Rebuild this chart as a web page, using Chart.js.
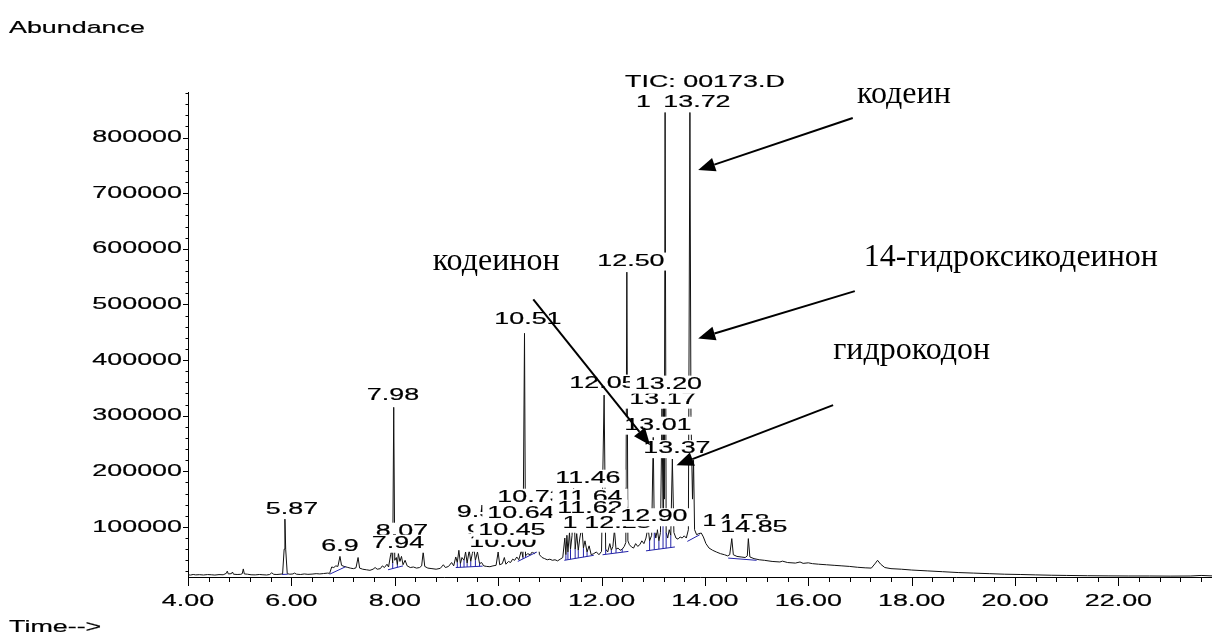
<!DOCTYPE html>
<html>
<head>
<meta charset="utf-8">
<script src="https://cdn.jsdelivr.net/npm/chart.js@4.4.0/dist/chart.umd.min.js"></script>
<style>
  html, body { margin: 0; padding: 0; background: #fff; }
  #wrap { width: 1212px; height: 632px; position: relative; }
</style>
</head>
<body>
<div id="wrap"><canvas id="tic"></canvas></div>
<script>
// TIC chromatogram, run 00173.D (time in min, abundance in counts)
const traceTime = [
  4.00, 4.05, 4.10, 4.15, 4.22, 4.30, 4.38, 4.45, 4.52, 4.60, 4.68, 4.74, 4.76, 4.78, 4.84, 4.86, 4.88, 4.95,
  5.02, 5.05, 5.07, 5.09, 5.15, 5.22, 5.30, 5.38, 5.45, 5.52, 5.58, 5.62, 5.66, 5.72, 5.78, 5.83, 5.86, 5.875, 5.89, 5.92, 5.97,
  6.03, 6.06, 6.10, 6.18, 6.25, 6.32, 6.40, 6.48, 6.55, 6.62, 6.70, 6.74, 6.78, 6.82, 6.86, 6.90, 6.94, 6.97,
  7.02, 7.08, 7.14, 7.20, 7.25, 7.29, 7.32, 7.38, 7.45, 7.52, 7.58, 7.62, 7.66, 7.72, 7.76, 7.80, 7.85, 7.88, 7.92, 7.94, 7.96, 7.98,
  8.00, 8.03, 8.05, 8.07, 8.10, 8.13, 8.16, 8.20, 8.24, 8.30, 8.36, 8.42, 8.48, 8.52, 8.55, 8.58, 8.64, 8.72, 8.80, 8.88, 8.94, 8.98,
  9.04, 9.10, 9.14, 9.18, 9.21, 9.24, 9.27, 9.30, 9.34, 9.37, 9.40, 9.44, 9.47, 9.50, 9.53, 9.56, 9.60, 9.64, 9.68, 9.72, 9.78, 9.84, 9.90, 9.96,
  10.00, 10.03, 10.08, 10.12, 10.15, 10.20, 10.24, 10.28, 10.32, 10.36, 10.40, 10.45, 10.48, 10.51, 10.53, 10.57, 10.62, 10.66, 10.70, 10.74, 10.77, 10.80, 10.85, 10.90, 10.95,
  11.00, 11.05, 11.10, 11.15, 11.20, 11.25, 11.29, 11.31, 11.33, 11.35, 11.38, 11.40, 11.43, 11.46, 11.49, 11.52, 11.55, 11.58, 11.62, 11.65, 11.68, 11.72, 11.76, 11.80, 11.85, 11.90, 11.95,
  12.00, 12.05, 12.08, 12.12, 12.16, 12.19, 12.22, 12.25, 12.28, 12.32, 12.36, 12.40, 12.44, 12.47, 12.49, 12.51, 12.54, 12.58, 12.62, 12.66, 12.70, 12.74, 12.78, 12.82, 12.86, 12.90, 12.93, 12.97,
  13.00, 13.02, 13.05, 13.08, 13.11, 13.14, 13.17, 13.19, 13.20, 13.215, 13.23, 13.25, 13.28, 13.31, 13.34, 13.37, 13.40, 13.44, 13.48, 13.52, 13.56, 13.60, 13.64, 13.68, 13.71, 13.73, 13.76, 13.78, 13.80, 13.84, 13.88, 13.93, 13.97,
  14.02, 14.08, 14.15, 14.22, 14.30, 14.38, 14.44, 14.48, 14.52, 14.55, 14.62, 14.70, 14.78, 14.82, 14.84, 14.87, 14.95,
  15.05, 15.15, 15.30, 15.45, 15.50, 15.60, 15.75, 15.84, 15.90, 16.00, 16.08, 16.20, 16.35, 16.50, 16.65, 16.80, 16.95,
  17.10, 17.22, 17.30, 17.34, 17.40, 17.48, 17.60, 17.80, 18.00, 18.30, 18.60, 18.90, 19.20, 19.50, 19.80,
  20.10, 20.40, 20.70, 21.00, 21.40, 21.80, 22.20, 22.60, 23.00, 23.40, 23.60, 23.81
];
const traceAbund = [
  14000, 13500, 14500, 13800, 14200, 13600, 14400, 14000, 13500, 14300, 14000, 16500, 20500, 15500, 16000, 19000, 15000, 14500,
  14800, 16000, 24500, 15500, 15000, 14000, 13800, 14500, 14000, 13600, 14500, 17500, 14800, 14500, 15000, 15500, 60000, 114000, 60000, 16000, 15000,
  15500, 17000, 15000, 14500, 15500, 14800, 15200, 16000, 15500, 16200, 17000, 16500, 28000, 27000, 30000, 29000, 47000, 31000,
  29000, 27500, 26000, 25000, 26500, 45000, 26000, 24000, 23000, 22000, 24000, 27000, 24000, 25000, 30000, 27000, 33000, 28000, 50000, 58000, 35000, 315000,
  40000, 45000, 32000, 52000, 38000, 47000, 32000, 40000, 30000, 27000, 28000, 26000, 27000, 30000, 55000, 29000, 26000, 25000, 24000, 25500, 32000, 27000,
  29000, 36000, 30000, 46000, 36000, 58000, 34000, 45000, 40000, 55000, 35000, 58000, 38000, 52000, 62000, 40000, 55000, 34000, 36000, 30000, 29000, 28500, 30000, 31000,
  55000, 32000, 34000, 45000, 33000, 38000, 36000, 42000, 40000, 46000, 41000, 58000, 45000, 448000, 48000, 52000, 50000, 55000, 52000, 56000, 76000, 50000, 45000, 43000, 41000,
  42000, 40000, 41000, 39000, 42000, 45000, 80000, 50000, 85000, 55000, 90000, 60000, 85000, 169000, 60000, 88000, 58000, 80000, 100000, 62000, 75000, 55000, 66000, 50000, 52000, 55000, 50000,
  56000, 337000, 60000, 55000, 70000, 58000, 65000, 95000, 60000, 62000, 58000, 60000, 65000, 72000, 558000, 75000, 68000, 64000, 62000, 70000, 65000, 68000, 75000, 70000, 80000, 100000, 75000, 85000,
  261000, 100000, 80000, 95000, 75000, 90000, 313000, 120000, 340000, 150000, 845000, 90000, 80000, 95000, 85000, 222000, 90000, 80000, 78000, 82000, 80000, 84000, 80000, 95000, 845000, 300000, 150000, 220000, 95000, 86000, 88000, 89000, 82000,
  70000, 62000, 58000, 55000, 52000, 50000, 48000, 50000, 79000, 50000, 47000, 46000, 45000, 48000, 79000, 46000, 43000,
  41000, 40000, 38000, 37000, 38500, 36000, 35000, 37000, 34500, 35500, 34000, 33000, 32000, 31000, 30000, 29000, 27500,
  26500, 26000, 35000, 40000, 33000, 27000, 25000, 24000, 22500, 21000, 19500, 18000, 17000, 16000, 15000,
  14500, 13800, 13200, 12800, 12300, 12000, 11800, 11800, 11600, 11800, 12800, 12000
];

// integration baselines and drop lines (blue); null breaks the line
const intTime = [
  5.82, 5.93, null, 6.74, 7.05, null, 7.87, 8.16, null, 9.18, 9.70, null, 10.38, 10.75, null,
  11.28, 11.85, null, 12.02, 12.52, null, 12.86, 13.42, null, 13.66, 13.90, null, 14.45, 15.00, null,
  7.96, 7.96, null, 8.05, 8.05, null,
  9.21, 9.21, null, 9.27, 9.27, null, 9.34, 9.34, null, 9.40, 9.40, null, 9.47, 9.47, null, 9.56, 9.56, null, 9.64, 9.64, null,
  10.48, 10.48, null, 10.53, 10.53, null,
  11.31, 11.31, null, 11.35, 11.35, null, 11.40, 11.40, null, 11.49, 11.49, null, 11.55, 11.55, null, 11.65, 11.65, null, 11.72, 11.72, null,
  12.08, 12.08, null, 12.19, 12.19, null, 12.28, 12.28, null, 12.40, 12.40, null,
  12.93, 12.93, null, 13.02, 13.02, null, 13.11, 13.11, null, 13.19, 13.19, null, 13.25, 13.25, null, 13.34, 13.34
];
const intAbund = [
  14500, 15000, null, 15000, 28500, null, 23000, 30000, null, 27000, 29500, null, 38000, 55000, null,
  40000, 49000, null, 50000, 56000, null, 57000, 64000, null, 74000, 86000, null, 44000, 40000, null,
  25200, 35000, null, 27400, 32000, null,
  27100, 36000, null, 27400, 34000, null, 27800, 40000, null, 28100, 35000, null, 28400, 38000, null, 28800, 40000, null, 29200, 34000, null,
  42600, 45000, null, 44900, 48000, null,
  40500, 50000, null, 41100, 55000, null, 41900, 60000, null, 43300, 60000, null, 44300, 58000, null, 45800, 62000, null, 46900, 55000, null,
  50700, 60000, null, 52000, 58000, null, 53100, 60000, null, 54600, 60000, null,
  57900, 75000, null, 59000, 100000, null, 60200, 75000, null, 61200, 120000, null, 61900, 90000, null, 63000, 85000
];

// retention-time labels, in drawing order (later ones cover earlier ones)
const labelText = [
  "6.9", "5.87", "7.98", "8.07", "7.94",
  "10.73", "11.64", "11.46", "9.53", "10.64", "11.62",
  "9.64", "10.00", "10.45",
  "1", "12.25", "12.90", "14.58", "14.85",
  "10.51", "12.50", "13.01", "13.37", "13.17", "12.05", "13.20",
  "1", "13.72", "TIC: 00173.D"
];
const labelTime = [
  6.940, 6.012, 7.965, 8.139, 8.062,
  10.634, 11.776, 11.737, 9.706, 10.441, 11.776,
  9.899, 10.093, 10.267,
  11.389, 12.317, 13.014, 14.600, 14.948,
  10.576, 12.569, 13.091, 13.458, 13.188, 12.027, 13.294,
  12.810, 13.845, 14.000
];
const labelAbund = [
  65300, 131800, 336900, 92300, 70700,
  153400, 153400, 187600, 126400, 124600, 133600,
  92300, 72500, 94100,
  106700, 106700, 118300, 109400, 99500,
  473600, 577900, 282900, 240700, 329700, 358500, 356700,
  863000, 863000, 898900
];

// compound names and arrows (tail -> head, data coordinates)
const noteText = ["кодеин", "14-гидроксикодеинон", "кодеинон", "гидрокодон"];
const noteTime = [17.85, 19.92, 9.96, 18.00];
const noteAbund = [876800, 583300, 576100, 417800];
const arrowFromTime = [16.86, 16.90, 10.68, 16.48];
const arrowFromAbund = [835100, 523900, 509000, 318900];
const arrowToTime = [13.87, 13.87, 12.94, 13.45];
const arrowToAbund = [741500, 438800, 246900, 211000];

const xMajor = [4, 6, 8, 10, 12, 14, 16, 18, 20, 22];
const xMajorLabels = ["4.00", "6.00", "8.00", "10.00", "12.00", "14.00", "16.00", "18.00", "20.00", "22.00"];
const yMajor = [100000, 200000, 300000, 400000, 500000, 600000, 700000, 800000];

const WIDE = 1.58;   // the ChemStation print is stretched sideways
const SANS = '"Liberation Sans", Arial, sans-serif';
const FS = 17;

function wideText(ctx, str, x, y, align) {
  ctx.save();
  ctx.font = FS + "px " + SANS;
  ctx.translate(x, y);
  ctx.scale(WIDE, 1);
  ctx.textAlign = align;
  ctx.textBaseline = "middle";
  ctx.fillStyle = "#000";
  ctx.strokeStyle = "#000";
  ctx.lineWidth = 0.2;
  ctx.fillText(str, 0, 0);
  ctx.strokeText(str, 0, 0);
  ctx.restore();
}

const peakLabels = {
  id: "peakLabels",
  afterDatasetsDraw(chart) {
    const { ctx, scales: { x, y } } = chart;
    ctx.save();
    ctx.font = FS + "px " + SANS;
    labelText.forEach((txt, i) => {
      const cx = x.getPixelForValue(labelTime[i]);
      const cy = y.getPixelForValue(labelAbund[i]);
      const w = ctx.measureText(txt).width * WIDE;
      ctx.fillStyle = "#fff";
      ctx.fillRect(cx - w / 2 - 5, cy - 8.5, w + 10, 18);
      wideText(ctx, txt, cx, cy, "center");
    });

    // arrows
    ctx.strokeStyle = "#000";
    ctx.fillStyle = "#000";
    ctx.lineWidth = 2;
    arrowFromTime.forEach((t, i) => {
      const x0 = x.getPixelForValue(t), y0 = y.getPixelForValue(arrowFromAbund[i]);
      const x1 = x.getPixelForValue(arrowToTime[i]), y1 = y.getPixelForValue(arrowToAbund[i]);
      const a = Math.atan2(y1 - y0, x1 - x0);
      const len = 17, half = 7;
      const bx = x1 - len * Math.cos(a), by = y1 - len * Math.sin(a);
      ctx.beginPath();
      ctx.moveTo(x0, y0);
      ctx.lineTo(bx, by);
      ctx.stroke();
      ctx.beginPath();
      ctx.moveTo(x1, y1);
      ctx.lineTo(bx + half * Math.sin(a), by - half * Math.cos(a));
      ctx.lineTo(bx - half * Math.sin(a), by + half * Math.cos(a));
      ctx.closePath();
      ctx.fill();
    });

    ctx.font = '32px "Liberation Serif", "Times New Roman", serif';
    ctx.textAlign = "center";
    ctx.textBaseline = "middle";
    noteText.forEach((txt, i) => {
      ctx.fillText(txt, x.getPixelForValue(noteTime[i]), y.getPixelForValue(noteAbund[i]));
    });
    ctx.restore();
  }
};

const chemAxes = {
  id: "chemAxes",
  afterDraw(chart) {
    const { ctx, chartArea, scales: { x, y } } = chart;
    ctx.save();
    ctx.strokeStyle = "#000";
    ctx.lineWidth = 1;
    ctx.beginPath();
    // x: minor every 0.4 min, major every 2 min
    for (let i = 0; 4 + i * 0.4 <= x.max; i++) {
      const px = Math.round(x.getPixelForValue(4 + i * 0.4)) + 0.5;
      const len = i % 5 === 0 ? 9 : 5;
      ctx.moveTo(px, chartArea.bottom);
      ctx.lineTo(px, chartArea.bottom + len);
    }
    // y: minor every 20000, major every 100000
    for (let v = 20000; v <= y.max; v += 20000) {
      const py = Math.round(y.getPixelForValue(v)) + 0.5;
      const len = v % 100000 === 0 ? 5 : 2.5;
      ctx.moveTo(chartArea.left, py);
      ctx.lineTo(chartArea.left - len, py);
    }
    ctx.stroke();
    xMajor.forEach((t, i) => wideText(ctx, xMajorLabels[i], x.getPixelForValue(t), chartArea.bottom + 24, "center"));
    yMajor.forEach(v => wideText(ctx, String(v), chartArea.left - 6, y.getPixelForValue(v), "right"));
    wideText(ctx, "Abundance", 9, 28, "left");
    wideText(ctx, "Time-->", 9, 627, "left");
    ctx.restore();
  }
};

const ctx = document.getElementById("tic");
new Chart(ctx, {
  type: "scatter",
  data: {
    datasets: [
      {
        label: "TIC",
        data: traceTime.map((t, i) => ({ x: t, y: traceAbund[i] })),
        showLine: true, borderColor: "#111", borderWidth: 1, pointRadius: 0, tension: 0, order: 2,
      },
      {
        label: "integration",
        data: intTime.map((t, i) => ({ x: t, y: intAbund[i] })),
        showLine: true, spanGaps: false, borderColor: "#2323a8", borderWidth: 1, pointRadius: 0, tension: 0, order: 1,
      },
    ],
  },
  options: {
    responsive: true,
    maintainAspectRatio: false,
    animation: false,
    devicePixelRatio: 1,
    layout: { padding: { top: 92, left: 0, right: 0, bottom: 0 } },
    plugins: { legend: { display: false }, tooltip: { enabled: false } },
    scales: {
      x: {
        type: "linear", min: 4, max: 23.81,
        grid: { display: false }, ticks: { display: false },
        border: { display: true, color: "#000", width: 1 },
        afterFit: s => { s.height = 55; },
      },
      y: {
        type: "linear", min: 10000, max: 881800,
        grid: { display: false }, ticks: { display: false },
        border: { display: true, color: "#000", width: 1 },
        afterFit: s => { s.width = 188; },
      },
    },
  },
  plugins: [peakLabels, chemAxes],
});
</script>
</body>
</html>
